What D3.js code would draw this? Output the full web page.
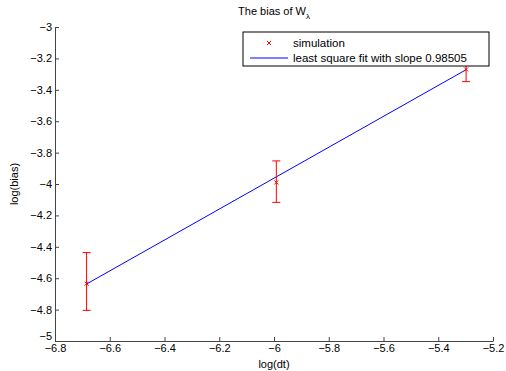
<!DOCTYPE html>
<html>
<head>
<meta charset="utf-8">
<script src="https://cdn.jsdelivr.net/npm/d3@7"></script>
<style>
  body { margin: 0; background: #fff; }
  text { font-family: "Liberation Sans", Arial, sans-serif; fill: #000; }
</style>
</head>
<body>
<script>
// data
var logDt = [-6.6846, -5.9915, -5.2983];
var logBias = [-4.635, -3.99, -3.27];
var errLow = [-4.805, -4.117, -3.348];
var errHigh = [-4.437, -3.853, -3.24];
var fitX = [-6.6846, -5.2983];
var fitY = [-4.637, -3.272];
var xTicks = [-6.8, -6.6, -6.4, -6.2, -6, -5.8, -5.6, -5.4, -5.2];
var yTicks = [-5, -4.8, -4.6, -4.4, -4.2, -4, -3.8, -3.6, -3.4, -3.2, -3];

var width = 506, height = 371;
var margin = { top: 27, right: 13, bottom: 30, left: 55 };

var x = d3.scaleLinear().domain([-6.8, -5.2]).range([margin.left, width - margin.right]);
var y = d3.scaleLinear().domain([-5, -3]).range([height - margin.bottom, margin.top]);

var fmt = function(d) { return String(d).replace("-", "\u2212"); };

var svg = d3.select("body").append("svg")
    .attr("width", width)
    .attr("height", height);

// axes, ticks pointing inward like matlab
var xAxis = svg.append("g")
    .attr("transform", "translate(0," + y(-5) + ")")
    .call(d3.axisBottom(x).tickValues(xTicks).tickSizeInner(-4).tickSizeOuter(0).tickPadding(4).tickFormat(fmt));
var yAxis = svg.append("g")
    .attr("transform", "translate(" + x(-6.8) + ",0)")
    .call(d3.axisLeft(y).tickValues(yTicks).tickSizeInner(-4).tickSizeOuter(0).tickPadding(3).tickFormat(fmt));

[xAxis, yAxis].forEach(function(a) {
  a.select(".domain").attr("stroke", "#444");
  a.selectAll(".tick line").attr("stroke", "#444");
  a.selectAll("text").attr("font-size", 11).attr("font-family", "Liberation Sans, Arial, sans-serif");
});
xAxis.selectAll("text").attr("dy", "0.65em");
// keep the bottom y label off the x labels
yAxis.selectAll(".tick text").filter(function(d) { return d === -5; }).attr("dy", "-0.1em");

// fit line
svg.append("line")
    .attr("x1", x(fitX[0])).attr("y1", y(fitY[0]))
    .attr("x2", x(fitX[1])).attr("y2", y(fitY[1]))
    .attr("stroke", "#0000ff").attr("stroke-width", 1);

// error bars
var pts = logDt.map(function(d, i) { return { x: d, y: logBias[i], lo: errLow[i], hi: errHigh[i] }; });
var eb = svg.append("g").attr("stroke", "#ff0000").attr("stroke-width", 1);
pts.forEach(function(p) {
  var cx = x(p.x);
  eb.append("line").attr("x1", cx).attr("x2", cx).attr("y1", y(p.lo)).attr("y2", y(p.hi));
  eb.append("line").attr("x1", cx - 4).attr("x2", cx + 4).attr("y1", y(p.lo)).attr("y2", y(p.lo));
  eb.append("line").attr("x1", cx - 4).attr("x2", cx + 4).attr("y1", y(p.hi)).attr("y2", y(p.hi));
  var cy = y(p.y);
  eb.append("path").attr("d", "M" + (cx - 2) + "," + (cy - 2) + "L" + (cx + 2) + "," + (cy + 2) +
    "M" + (cx - 2) + "," + (cy + 2) + "L" + (cx + 2) + "," + (cy - 2));
});

// title
var title = svg.append("text").attr("x", 274).attr("y", 15).attr("text-anchor", "middle").attr("font-size", 11);
title.append("tspan").text("The bias of W");
title.append("tspan").attr("dy", 4).attr("font-size", 8).text("\u03bb");

// axis labels
svg.append("text").attr("x", 274).attr("y", 368).attr("text-anchor", "middle").attr("font-size", 11).text("log(dt)");
svg.append("text").attr("transform", "translate(18," + y(-4) + ") rotate(-90)")
    .attr("text-anchor", "middle").attr("font-size", 11).text("log(bias)");

// legend
var lg = svg.append("g");
lg.append("rect").attr("x", 243).attr("y", 32).attr("width", 246).attr("height", 34)
    .attr("fill", "#fff").attr("stroke", "#000").attr("stroke-width", 1);
lg.append("path").attr("d", "M267,41L271,45M267,45L271,41").attr("stroke", "#ff0000").attr("stroke-width", 1);
lg.append("text").attr("x", 293).attr("y", 47).attr("font-size", 11.5).text("simulation");
lg.append("line").attr("x1", 250).attr("x2", 288).attr("y1", 58).attr("y2", 58).attr("stroke", "#0000ff");
lg.append("text").attr("x", 293).attr("y", 62).attr("font-size", 11.5).text("least square fit with slope 0.98505");
</script>
</body>
</html>
